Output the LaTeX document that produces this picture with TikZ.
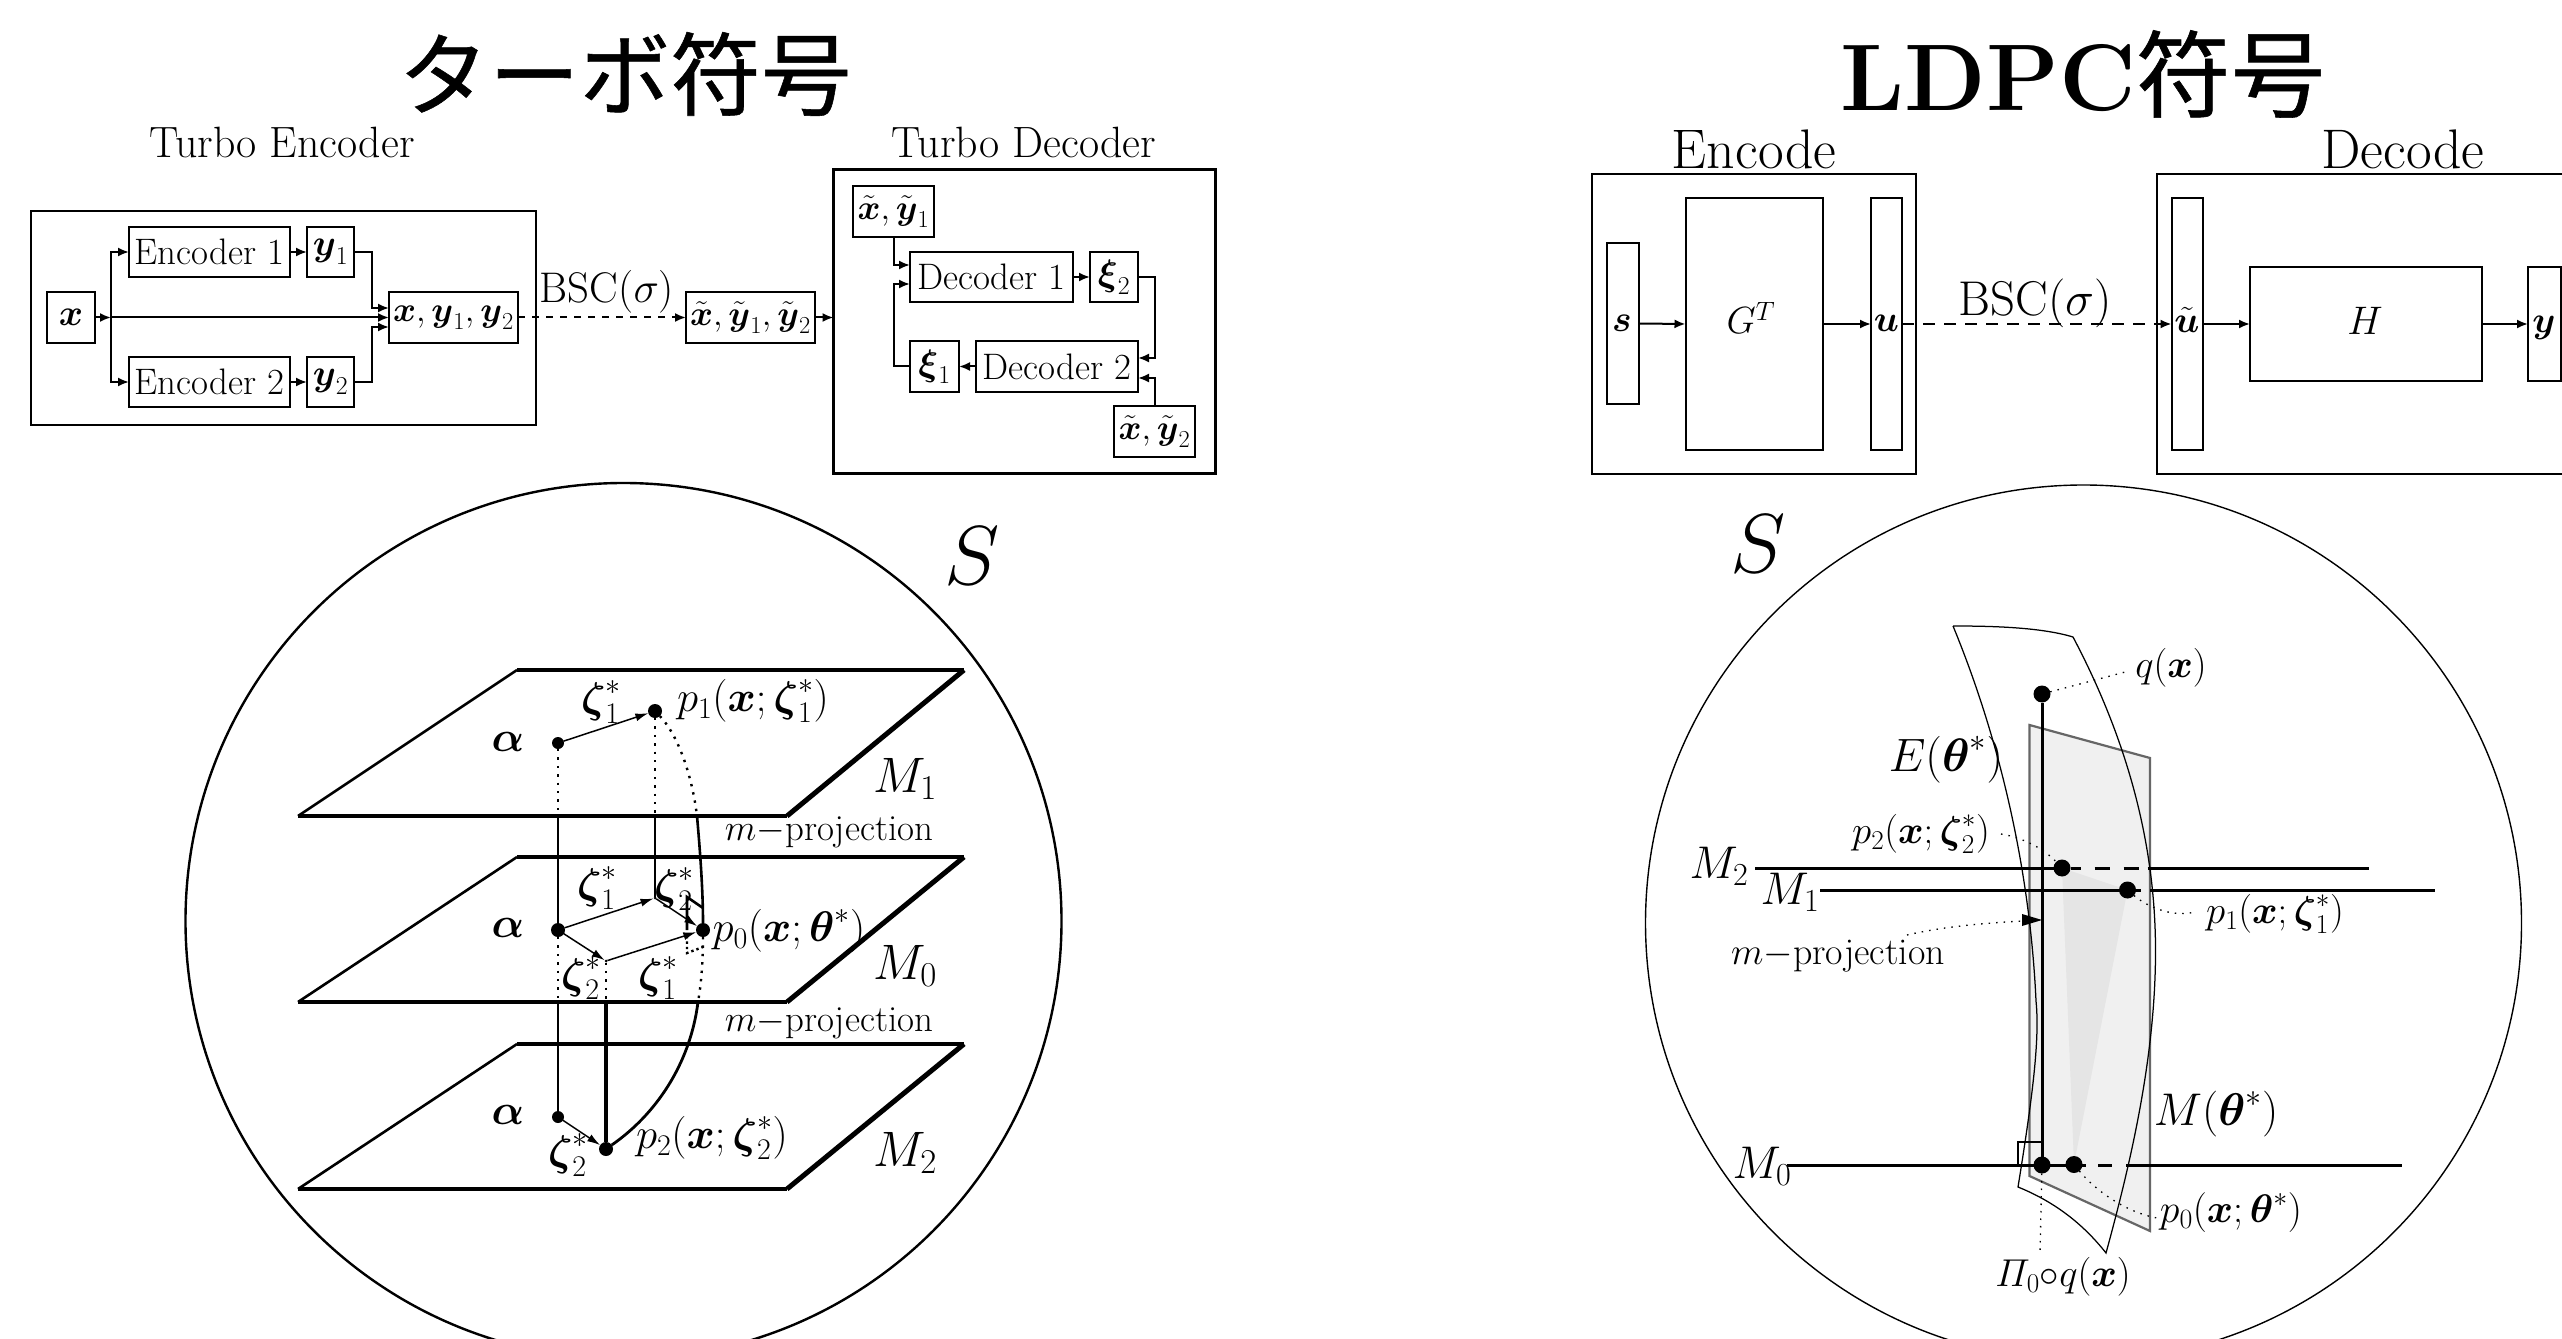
\RequirePackage{fix-cm}
\documentclass[tikz,border=0pt]{standalone}
\usepackage{amsmath}
\usepackage[no-math]{fontspec}
\usetikzlibrary{arrows.meta}
\newfontfamily\cjkjp{Noto Sans CJK JP}[FakeBold=0.6]
\DeclareMathSymbol{\itPi}{\mathord}{letters}{"05}
\newcommand{\fsz}[1]{\fontsize{#1}{#1}\selectfont}
\newcommand{\bsx}{\boldsymbol{x}}
\newcommand{\bsy}{\boldsymbol{y}}
\newcommand{\bsz}{\boldsymbol{\zeta}}
\newcommand{\bst}{\boldsymbol{\theta}}
\newcommand{\tx}{\tilde{\boldsymbol{x}}}
\newcommand{\ty}{\tilde{\boldsymbol{y}}}
\tikzset{
  bx/.style={draw,line width=2bp,inner sep=0pt,outer sep=0pt,rectangle,font=\fsz{37},text=black},
  obx/.style={bx,line width=2.2bp},
  lb/.style={inner sep=0pt,outer sep=0pt,text=black},
  arr/.style={line width=2bp,-{Latex[length=11bp,width=9bp]}},
  ln/.style={line width=1.8bp},
  thinarr/.style={line width=1.5bp,-{Latex[length=13bp,width=8bp]}},
  dott/.style={line width=2.4bp,dash pattern=on 2.4bp off 6bp},
  leader/.style={line width=1.3bp,dash pattern=on 1.5bp off 6bp},
  thinln/.style={line width=1.25bp},
  dotpt/.style={circle,fill=black,inner sep=0pt,outer sep=0pt,minimum size=#1},
  grline/.style={line width=3bp},
}
\begin{document}
\begin{tikzpicture}[x=1bp,y=-1bp]
\useasboundingbox (0,0) rectangle (2562,1339);
\fill[white] (0,0) rectangle (2562,1339);
\clip (0,0) rectangle (2562,1339);
% titles
\node[lb,font=\fsz{91}\cjkjp] (t1) at (625,74) {ターボ符号};
\node[lb,font=\fsz{95}] (t2) at (2083,74) {\textbf{LDPC}{\cjkjp 符号}};
% Turbo encoder
\node[lb,font=\fsz{44}] (te) at (282,142) {Turbo Encoder};
\node[lb,font=\fsz{44}] (td) at (1024,142) {Turbo Decoder};
\node[obx,minimum width=505bp,minimum height=214bp] (encbox) at (283.5,318) {};
\node[bx,minimum width=161bp,minimum height=50bp] (enc1) at (209.5,252) {Encoder 1};
\node[bx,minimum width=47bp,minimum height=50bp] (y1) at (330.5,252) {$\bsy_1$};
\node[bx,minimum width=161bp,minimum height=50bp] (enc2) at (209.5,382) {Encoder 2};
\node[bx,minimum width=47bp,minimum height=50bp] (y2) at (330.5,382) {$\bsy_2$};
\node[bx,minimum width=48bp,minimum height=51bp] (x) at (71,317.5) {$\bsx$};
\node[bx,font=\fsz{35},minimum width=129bp,minimum height=51bp] (xy) at (453.5,317.5) {$\bsx,\bsy_1,\bsy_2$};
\node[bx,font=\fsz{35},minimum width=129bp,minimum height=51bp] (txy) at (750.5,317.5) {$\tx,\ty_1,\ty_2$};
\coordinate (b) at (111,317.5);
\coordinate (jA) at (372,252);
\coordinate (jB) at (372,382);
\coordinate (xyA) at (389,308);
\coordinate (xyB) at (389,327);
\draw[arr] (x.east) -- (b);
\draw[arr] (b) -- (xy.west);
\draw[arr] (b) |- (enc1.west);
\draw[arr] (b) |- (enc2.west);
\draw[arr] (enc1.east) -- (y1.west);
\draw[arr] (enc2.east) -- (y2.west);
\draw[arr] (y1.east) -- (jA) |- (xyA);
\draw[arr] (y2.east) -- (jB) |- (xyB);
\draw[arr,dash pattern=on 7bp off 7bp] (xy.east) -- (txy.west);
\node[lb,font=\fsz{43}] (bsc1) at (607,292) {BSC($\sigma$)};
% Turbo decoder
\node[obx,minimum width=382bp,minimum height=304bp] (decbox) at (1024.5,321.5) {};
\node[bx,font=\fsz{35},minimum width=81bp,minimum height=51bp] (txy1) at (893.5,211.5) {$\tx,\ty_1$};
\node[bx,minimum width=163bp,minimum height=50bp] (dec1) at (991.5,277) {Decoder 1};
\node[bx,minimum width=48bp,minimum height=50bp] (xi2) at (1114,277) {$\boldsymbol{\xi}_2$};
\node[bx,minimum width=49bp,minimum height=51bp] (xi1) at (934.5,366.5) {$\boldsymbol{\xi}_1$};
\node[bx,minimum width=162bp,minimum height=51bp] (dec2) at (1057,366.5) {Decoder 2};
\node[bx,font=\fsz{35},minimum width=81bp,minimum height=51bp] (txy2) at (1154.5,431.5) {$\tx,\ty_2$};
\coordinate (d1a) at (910,265);
\coordinate (d1b) at (910,284);
\coordinate (d2a) at (1138,358);
\coordinate (d2b) at (1138,378);
\draw[arr] (txy.east) -- (decbox.west |- txy.east);
\draw[arr] (txy1.south) |- (d1a);
\draw[arr] (xi1.west) -- (894,366.5) |- (d1b);
\draw[arr] (dec1.east) -- (xi2.west);
\draw[arr] (dec2.west) -- (xi1.east);
\draw[arr] (xi2.east) -- (1155,277) |- (d2a);
\draw[arr] (txy2.north) |- (d2b);
% Right block diagram
\node[lb,font=\fsz{56}] (enclab) at (1754,149) {Encode};
\node[lb,font=\fsz{56}] (declab) at (2403,149) {Decode};
\node[bx,minimum width=324bp,minimum height=299bp] (ebox) at (1754,324) {};
\node[bx,minimum width=430bp,minimum height=299bp] (dbox) at (2372,324) {};
\node[bx,minimum width=32bp,minimum height=161bp] (s) at (1623,323.5) {};
\node[lb,font=\fsz{37}] (stxt) at (1622,323) {$\boldsymbol{s}$};
\node[bx,minimum width=137bp,minimum height=252bp] (G) at (1754,324) {};
\node[lb,font=\fsz{38}] (Gtxt) at (1751,318) {$G^T$};
\node[bx,minimum width=31bp,minimum height=252bp] (u) at (1886.5,324) {};
\node[lb,font=\fsz{37}] (utxt) at (1886.5,323) {$\boldsymbol{u}$};
\node[bx,minimum width=31bp,minimum height=252bp] (ut) at (2187,324) {};
\node[lb,font=\fsz{37}] (uttxt) at (2187,320) {$\tilde{\boldsymbol{u}}$};
\node[bx,minimum width=232bp,minimum height=114bp] (H) at (2366,324) {};
\node[lb,font=\fsz{40}] (Htxt) at (2365,321) {$H$};
\node[bx,minimum width=33bp,minimum height=114bp] (ybox) at (2544.5,324) {};
\node[lb,font=\fsz{37}] (ytxt) at (2544,328) {$\bsy$};
\draw[arr] (s.east) -- (G.west);
\draw[arr] (G.east) -- (u.west);
\draw[arr,dash pattern=on 12bp off 9bp] (u.east) -- (ut.west);
\draw[arr] (ut.east) -- (H.west);
\draw[arr] (H.east) -- (ybox.west);
\node[lb,font=\fsz{49}] (bsc2) at (2035,303) {BSC($\sigma$)};
% Left circle
\draw[line width=2.4bp] (623.5,921) circle [radius=438bp];
\node[lb,font=\fsz{84}] (S1) at (972,556) {$S$};
% planes
\foreach \t/\bo in {670/816,857/1002,1044/1189}{
  \draw[line width=4bp] (517,\t) -- (964,\t);
  \draw[line width=5bp] (964,\t) -- (787,\bo);
  \draw[line width=2.6bp] (517,\t) -- (298,\bo);
  \draw[line width=4.5bp] (298,\bo) -- (787,\bo);
}
\node[dotpt=12bp] (a1) at (558,743) {};
\node[dotpt=14bp] (p1) at (655,711) {};
\node[dotpt=14bp] (a0) at (558,930) {};
\node[dotpt=14bp] (p0) at (703,930) {};
\node[dotpt=3bp] (mt) at (655,898) {};
\node[dotpt=3bp] (mb) at (606,961) {};
\node[dotpt=12bp] (a2) at (558,1117) {};
\node[dotpt=14bp] (p2) at (606,1149) {};
\coordinate (e1) at (558,816);
\coordinate (e2) at (655,816);
\coordinate (e3) at (558,1002);
\coordinate (e4) at (606,1002);
\coordinate (c1) at (697,816);
\coordinate (c2) at (698,1002);
\draw[dott] (a1) -- (e1);
\draw[ln,line width=2.6bp] (e1) -- (a0);
\draw[dott] (a0) -- (e3);
\draw[ln,line width=2.6bp] (e3) -- (a2);
\draw[dott] (p1) -- (e2);
\draw[ln,line width=2.4bp] (e2) -- (mt);
\draw[dott] (mb) -- (e4);
\draw[ln,line width=3.2bp] (e4) -- (p2);
\draw[dott] (p1) .. controls (678,735) and (692,775) .. (c1);
\draw[ln,line width=2.6bp] (c1) .. controls (700,850) and (703,890) .. (p0);
\draw[dott] (p0) .. controls (703,955) and (702,980) .. (c2);
\draw[ln,line width=2.8bp] (c2) .. controls (690,1065) and (655,1115) .. (p2);
\draw[thinarr] (a1) -- (p1);
\draw[thinarr] (a0) -- (mt);
\draw[thinarr] (mt) -- (p0);
\draw[thinarr] (a0) -- (mb);
\draw[thinarr] (mb) -- (p0);
\draw[thinarr] (a2) -- (p2);
% right angle marks
\coordinate (r1) at (687,897);
\coordinate (r2) at (687,930);
\coordinate (r3) at (703,908);
\coordinate (r4) at (687,936);
\coordinate (r5) at (687,953);
\coordinate (r6) at (703,947);
\draw[line width=2.6bp] (r2) -- (r1) -- (r3);
\draw[dott,line width=2.4bp,dash pattern=on 2.4bp off 3bp] (r4) -- (r5) -- (r6);
% labels left
\node[lb,font=\fsz{43}] (la1) at (508,742) {$\boldsymbol{\alpha}$};
\node[lb,font=\fsz{43}] (la0) at (508,928) {$\boldsymbol{\alpha}$};
\node[lb,font=\fsz{43}] (la2) at (508,1115) {$\boldsymbol{\alpha}$};
\node[lb,font=\fsz{43}] (z1a) at (601,702) {$\bsz_1^*$};
\node[lb,font=\fsz{43}] (pl1) at (753,701) {$p_1(\bsx;\bsz_1^*)$};
\node[lb,font=\fsz{43}] (z1b) at (597,888) {$\bsz_1^*$};
\node[lb,font=\fsz{43}] (z2b) at (674,889) {$\bsz_2^*$};
\node[lb,font=\fsz{43}] (pl0) at (789,931) {$p_0(\bsx;\bst^*)$};
\node[lb,font=\fsz{43}] (z2c) at (581,978) {$\bsz_2^*$};
\node[lb,font=\fsz{43}] (z1c) at (658,978) {$\bsz_1^*$};
\node[lb,font=\fsz{43}] (z2d) at (568,1155) {$\bsz_2^*$};
\node[lb,font=\fsz{43}] (pl2) at (712,1138) {$p_2(\bsx;\bsz_2^*)$};
\node[lb,font=\fsz{50}] (M1a) at (905,779) {$M_1$};
\node[lb,font=\fsz{50}] (M0a) at (905,966) {$M_0$};
\node[lb,font=\fsz{50}] (M2a) at (905,1153) {$M_2$};
\node[lb,font=\fsz{37}] (mp1) at (829,832) {$m{-}$projection};
\node[lb,font=\fsz{37}] (mp2) at (829,1023) {$m{-}$projection};
% Right circle
\draw[line width=1.4bp] (2083.5,923) circle [radius=438bp];
\node[lb,font=\fsz{84}] (S2) at (1758,544) {$S$};
% M plane, triangle
\filldraw[fill=black!6,draw=black!60,line width=2.2bp] (2029.5,725) -- (2150,758) -- (2150,1231) -- (2029.5,1176) -- cycle;
\fill[black!10] (2062,868) -- (2127.5,890) -- (2074,1164) -- cycle;
% E surface
\draw[thinln] (1953,626) .. controls (1990,626) and (2040,627) .. (2073,637)
  .. controls (2130,745) and (2156,850) .. (2155.5,954)
  .. controls (2155,1060) and (2130,1165) .. (2106,1253)
  .. controls (2080,1220) and (2050,1200) .. (2018,1187)
  .. controls (2032,1100) and (2040,1040) .. (2036,1001)
  .. controls (2030,870) and (2000,740) .. (1953,626);
\node[dotpt=17bp] (q) at (2042,694) {};
\node[dotpt=17bp] (pm2) at (2062,868) {};
\node[dotpt=17bp] (pm1) at (2127.5,890) {};
\node[dotpt=17bp] (pi0) at (2042,1165) {};
\node[dotpt=17bp] (pm0) at (2074,1164.5) {};
\draw[line width=1.3bp] (2018,1165) -- (2018,1142) -- (2042,1142);
\draw[line width=3bp] (q) -- (pi0);
\coordinate (l2a) at (1755,868);
\coordinate (l2b) at (2369,868);
\coordinate (l2c) at (2150,868);
\coordinate (l1a) at (1820,890);
\coordinate (l1b) at (2435,890);
\coordinate (l1c) at (2141,890);
\coordinate (l1d) at (2150,890);
\coordinate (l0a) at (1787,1165);
\coordinate (l0b) at (2402,1165);
\coordinate (l0c) at (2086,1165);
\coordinate (l0d) at (2126,1165);
\draw[grline] (l2a) -- (pm2);
\draw[grline,dash pattern=on 10bp off 14bp on 15bp off 14bp on 15bp off 9bp] (pm2) -- (l2c);
\draw[grline] (l2c) -- (l2b);
\draw[grline] (l1a) -- (l1c);
\draw[grline] (l1d) -- (l1b);
\draw[grline] (l0a) -- (l0c);
\draw[grline,dash pattern=on 0bp off 12bp on 14bp off 20bp] (l0c) -- (l0d);
\draw[grline] (l0d) -- (l0b);
% labels right
\node[lb,font=\fsz{39}] (lq) at (2171,668) {$q(\bsx)$};
\node[lb,font=\fsz{47}] (lE) at (1946,760) {$E(\bst^*)$};
\node[lb,font=\fsz{39}] (lp2) at (1921,834) {$p_2(\bsx;\bsz_2^*)$};
\node[lb,font=\fsz{46}] (lM2) at (1719,866) {$M_2$};
\node[lb,font=\fsz{46}] (lM1) at (1790,892) {$M_1$};
\node[lb,font=\fsz{39}] (lp1) at (2275,914) {$p_1(\bsx;\bsz_1^*)$};
\node[lb,font=\fsz{38}] (lmp) at (1838,956) {$m{-}$projection};
\node[lb,font=\fsz{46}] (lM) at (2216,1114) {$M(\bst^*)$};
\node[lb,font=\fsz{46}] (lM0) at (1762,1166) {$M_0$};
\node[lb,font=\fsz{40}] (lp0) at (2231,1213) {$p_0(\bsx;\bst^*)$};
\node[lb,font=\fsz{39}] (lPi) at (2063,1277) {$\itPi_0{\circ}q(\bsx)$};
% leaders
\coordinate (ql) at (2129,671);
\coordinate (p2l) at (2001,834);
\coordinate (p1l) at (2195,912);
\coordinate (mpl) at (1907,935);
\coordinate (mpt) at (2042,920);
\coordinate (p0l) at (2157,1218);
\coordinate (pil) at (2040,1253);
\draw[leader] (q) -- (ql);
\draw[leader] (p2l) .. controls (2025,838) and (2045,850) .. (pm2);
\draw[leader] (pm1) .. controls (2145,905) and (2170,918) .. (p1l);
\draw[leader] (mpl) .. controls (1950,925) and (2000,922) .. (mpt);
\fill (mpt) -- (2022,914) -- (2022,926) -- cycle;
\draw[leader] (pm0) .. controls (2095,1190) and (2125,1212) .. (p0l);
\draw[leader] (pi0) -- (pil);
\end{tikzpicture}
\end{document}
